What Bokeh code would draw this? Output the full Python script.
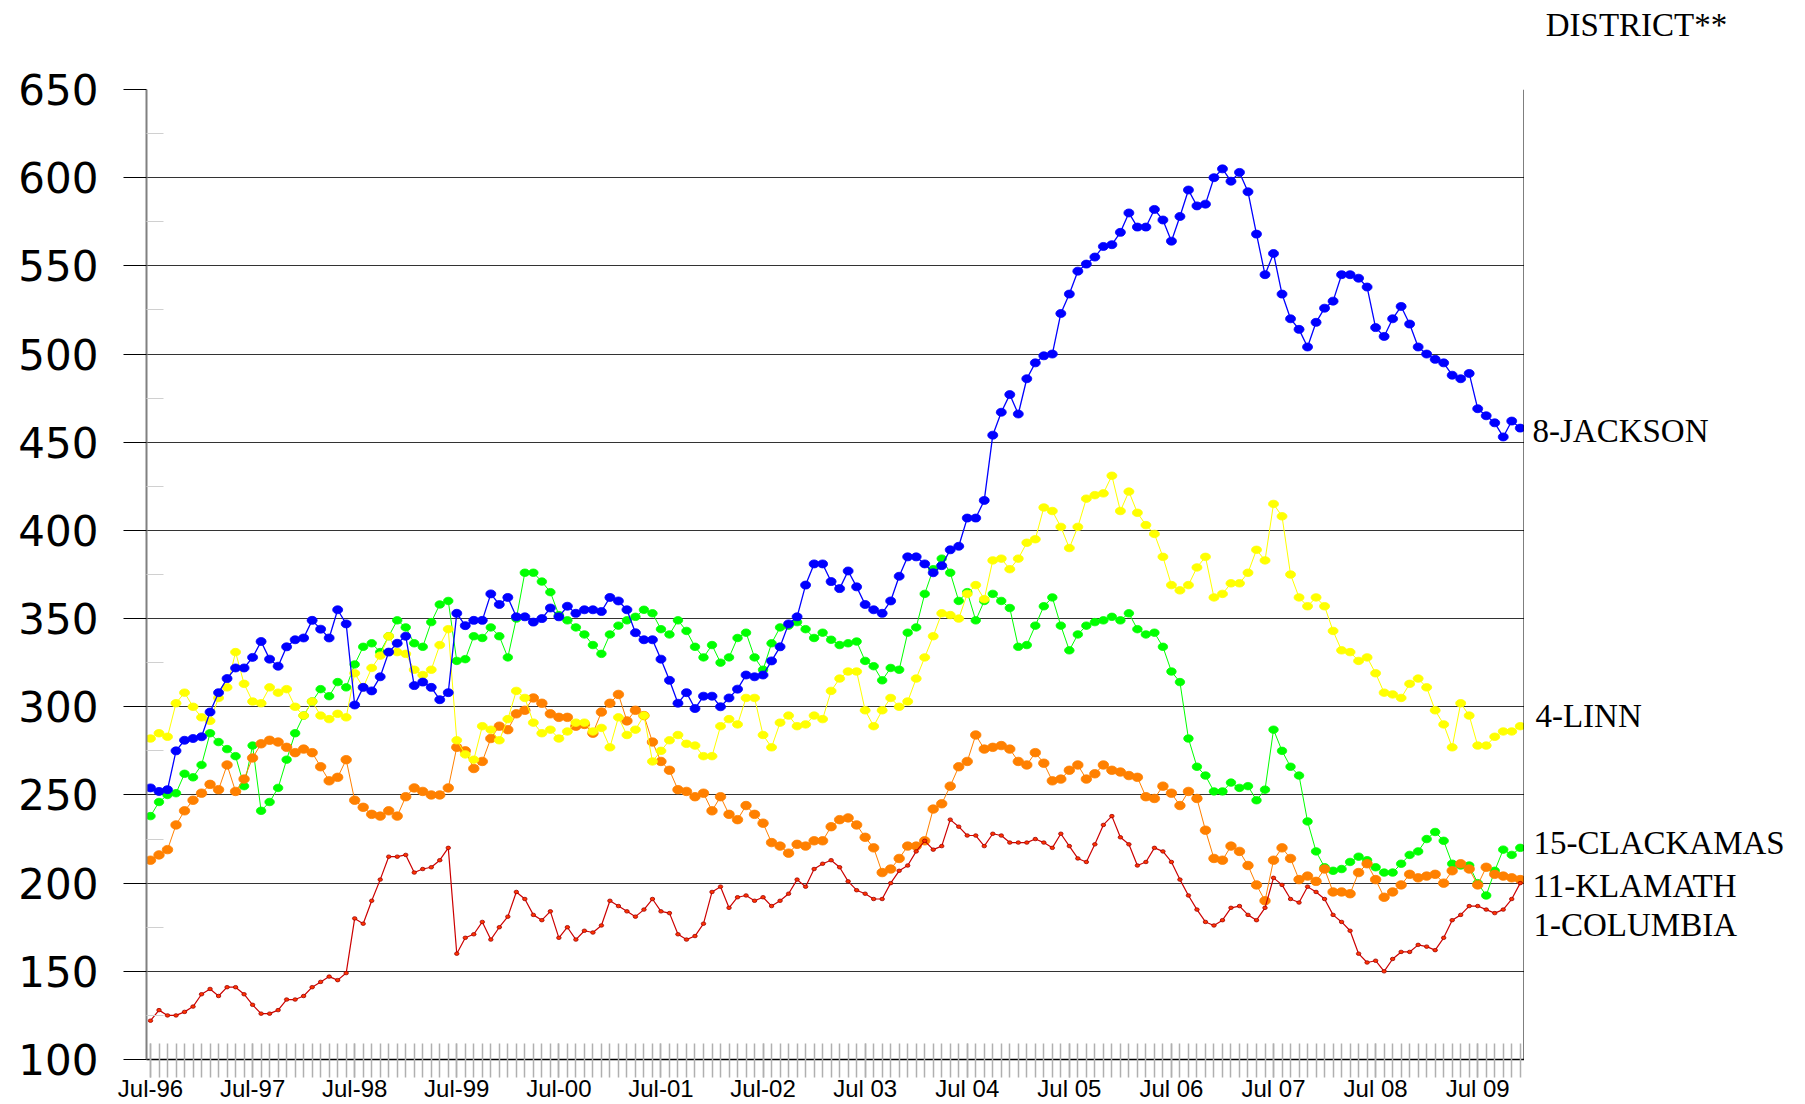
from bokeh.plotting import figure
from bokeh.layouts import row
from bokeh.models import Range1d, FixedTicker, Span, ColumnDataSource, LinearAxis
from bokeh.core.properties import value
from bokeh.embed import file_html
from bokeh.resources import INLINE

# ---------------- data (monthly, Jul-96 .. Dec-09) ----------------
x_tick_labels = ["Jul-96", "Jul-97", "Jul-98", "Jul-99", "Jul-00", "Jul-01", "Jul-02",
                 "Jul 03", "Jul 04", "Jul 05", "Jul 06", "Jul 07", "Jul 08", "Jul 09"]

y_ticks = [100, 150, 200, 250, 300, 350, 400, 450, 500, 550, 600, 650]

jackson = [254, 252, 253, 275, 281, 282, 283, 297, 308, 316, 322, 322, 328, 337, 327, 323,
           334, 338, 339, 349, 344, 339, 355, 347, 301, 311, 309, 317, 331, 336, 340, 312,
           314, 311, 304, 308, 353, 346, 349, 349, 364, 358,
           362, 351, 351, 348, 350, 356, 351, 357, 353, 355, 355, 354, 362, 360, 355, 342,
           338, 338, 327, 315, 302, 308, 299, 306, 306, 300, 305, 310, 318, 317, 318, 326,
           334, 347, 351, 369, 381, 381, 371, 367, 377,
           368, 358, 355, 353, 360, 374, 385, 385, 381, 376, 380, 389, 391,
           407, 407, 417, 454, 467, 477, 466, 486, 495, 499, 500, 523, 534, 547, 551, 555,
           561, 562, 569, 580, 572, 572, 582, 576, 564, 578, 593, 584, 585, 600, 605, 598,
           603, 592, 568, 545, 557, 534, 520, 514, 504, 518, 526, 530, 545, 545, 543, 538,
           515, 510, 520, 527, 517, 504, 500, 497, 495, 488, 486, 489, 469, 465, 461, 453,
           462, 458]

linn = [282, 285, 283, 302, 308, 300, 294, 292, 305, 311, 331, 313, 303, 302, 311, 308,
        310, 300, 295, 303, 295, 293, 296, 294, 319, 311, 322, 329, 340, 331, 330, 321,
        318, 321, 335, 344, 281, 273, 270, 289, 287, 281,
        293, 309, 305, 291, 285, 287, 282, 286, 291, 291, 286, 288, 277, 294, 284, 287,
        295, 269, 275, 281, 284, 279, 278, 272, 272, 289, 293, 290, 305, 305, 284, 277,
        291, 295, 289, 290, 295, 293, 309, 316, 320,
        320, 298, 289, 298, 305, 300, 303, 316, 328, 340, 353, 352, 350, 364, 369, 361,
        383, 384, 378, 384, 393, 395, 413, 411, 402, 390, 402, 418, 420, 421, 431, 411,
        422, 410, 403, 398, 385, 369, 366, 369, 379,
        385, 362, 364, 370, 370, 376, 389, 383, 415, 408, 375, 362, 357, 362, 357, 343,
        332, 331, 326, 328, 319, 308, 307, 305, 313, 316, 311, 298, 290, 277, 302, 295,
        278, 278, 283, 286, 286, 289]

clackamas = [238, 246, 250, 251, 262, 260, 267, 285, 280, 276, 272, 255, 278, 241, 246, 254,
             270, 285, 295, 303, 310, 306, 314, 311, 324, 334, 336, 331, 340, 349, 345, 336,
             334, 348, 358, 360, 326, 327, 340, 339, 345, 340,
             328, 350, 376, 376, 371, 365, 352, 349, 345, 341, 335, 330, 341, 346, 349, 351,
             355, 353, 344, 341, 349, 343, 334, 328, 335, 325, 328, 339, 342, 328, 321, 336,
             345, 346, 348, 344, 339, 342, 338, 335, 336,
             337, 326, 323, 315, 322, 321, 342, 345, 364, 378, 384, 376, 360, 365, 349, 360,
             364, 360, 356, 334, 335, 346, 357, 362, 346, 332, 341, 346, 348, 349, 351, 349,
             353, 344, 341, 342, 334, 320, 314, 282, 266,
             261, 252, 252, 257, 254, 255, 247, 253, 287, 275, 266, 261, 235, 218, 209, 207,
             208, 212, 215, 213, 209, 206, 206, 211, 216, 218, 225, 229, 224, 211, 210, 210,
             200, 193, 207, 219, 216, 220]

klamath = [213, 216, 219, 233, 241, 247, 251, 256, 253, 267, 252, 259, 271, 279, 281, 280,
           277, 274, 276, 274, 266, 258, 260, 270, 247, 243, 239, 238, 241, 238, 249, 254,
           252, 250, 250, 254, 277, 275, 265, 269, 282, 289,
           287, 296, 298, 305, 302, 296, 294, 294, 289, 290, 285, 297, 302, 307, 292, 298,
           295, 280, 269, 264, 253, 252, 249, 251, 241, 249, 239, 236, 244, 239, 234, 223,
           221, 217, 222, 221, 224, 224, 232, 236, 237,
           233, 226, 220, 206, 208, 214, 221, 221, 224, 242, 245, 255, 266, 269, 284, 276,
           277, 278, 276, 269, 267, 274, 268, 258, 259, 264, 267, 259, 262, 267, 264, 263,
           261, 260, 249, 248, 255, 251, 244, 252, 248,
           230, 214, 213, 221, 218, 210, 199, 190, 213, 220, 214, 202, 204, 201, 208, 195,
           195, 194, 206, 211, 202, 192, 195, 199, 205, 203, 204, 205, 200, 207, 211, 208,
           199, 209, 205, 204, 203, 202]

columbia = [122, 128, 125, 125, 127, 130, 137, 140, 136, 141, 141, 137, 131, 126, 126, 128,
            134, 134, 136, 141, 144, 147, 145, 149, 180, 177, 190, 202, 215, 215, 216, 206,
            208, 209, 213, 220, 160, 169, 171, 178, 168, 175,
            181, 195, 191, 182, 179, 184, 169, 175, 168, 173, 172, 176, 190, 187, 184, 181,
            185, 191, 184, 183, 171, 168, 170, 177, 195, 198, 186, 192, 193, 190, 192, 187,
            190, 194, 202, 198, 208, 211, 213, 209, 201,
            196, 194, 191, 191, 200, 207, 210, 218, 224, 219, 221, 236, 232, 227, 227, 221,
            228, 227, 223, 223, 223, 225, 223, 220, 228, 221, 214, 212, 222, 233, 238, 226,
            222, 210, 212, 220, 218, 212, 202, 193, 185,
            178, 176, 179, 186, 187, 182, 179, 186, 203, 199, 191, 189, 198, 195, 191, 182,
            178, 173, 160, 155, 156, 150, 157, 161, 161, 165, 164, 162, 169, 179, 182, 187,
            187, 185, 183, 185, 191, 200]

legend_title = "DISTRICT**"
series_names = ["8-JACKSON", "4-LINN", "15-CLACKAMAS", "11-KLAMATH", "1-COLUMBIA"]

months = list(range(len(jackson)))

# ---------------- layout constants ----------------
W_MAIN, W_SIDE, H = 1524, 281, 1104
B_LEFT, B_TOP, B_BOTTOM = 146, 89, 45
x_start, x_end = -0.47, len(months) - 0.5
ppx = (W_MAIN - B_LEFT) / (x_end - x_start)          # pixels per month

# ---------------- main figure ----------------
p = figure(width=W_MAIN, height=H, output_backend="svg", toolbar_location=None,
           x_range=Range1d(x_start, x_end), y_range=Range1d(y_ticks[0], y_ticks[-1]),
           min_border_left=B_LEFT, min_border_right=0, min_border_top=B_TOP,
           min_border_bottom=B_BOTTOM,
           background_fill_color="white", border_fill_color="white", outline_line_color=None)

# series: (values, line colour, line width, fill, outline, marker w, marker h)
series = [
    (clackamas, "#00ff00", 1.0, "#00ff00", "#00ff00", 9.5, 7.5),
    (klamath, "#ff8000", 1.0, "#ff8000", "#ff8000", 10.5, 8.5),
    (linn, "#ffff00", 1.0, "#ffff00", "#ffff00", 10, 7.5),
    (jackson, "#0000ff", 1.3, "#0000ff", "#0000ff", 10, 8),
    (columbia, "#cc0000", 1.2, "#ff3300", "#a00000", 4.5, 3.5),
]
for vals, lc, lw, fc, oc, mw, mh in series:
    src = ColumnDataSource(dict(x=months, y=vals))
    p.line("x", "y", source=src, line_color=lc, line_width=lw)
    p.ellipse("x", "y", source=src, width=mw, height=mh, width_units="screen",
              height_units="screen", fill_color=fc, line_color=oc, line_width=0.8)

# x axis
x_major = list(range(0, len(months), 12))
xa = p.xaxis[0]
xa.ticker = FixedTicker(ticks=x_major, minor_ticks=months)
xa.major_label_overrides = {t: lab for t, lab in zip(x_major, x_tick_labels)}
xa.axis_line_color = "black"
xa.axis_line_width = 1.5
for pre in ("major", "minor"):
    setattr(xa, pre + "_tick_line_color", "#b0b0b0")
    setattr(xa, pre + "_tick_line_width", 1.5)
    setattr(xa, pre + "_tick_in", 16)
    setattr(xa, pre + "_tick_out", 18)
xa.major_label_standoff = -3
xa.major_label_text_font = "Liberation Sans"
xa.major_label_text_font_size = "24px"
xa.major_label_text_color = "black"

# y axis
ya = p.yaxis[0]
ya.ticker = FixedTicker(ticks=y_ticks, minor_ticks=[t + 25 for t in y_ticks[:-1]])
ya.axis_line_color = "#808080"
ya.axis_line_width = 2
ya.major_tick_in = 0
ya.major_tick_out = 23
ya.major_tick_line_color = "black"
ya.major_tick_line_width = 1.2
ya.minor_tick_in = 17
ya.minor_tick_out = 0
ya.minor_tick_line_color = "#d0d0d0"
ya.major_label_standoff = 25
ya.major_label_text_font = "DejaVu Sans"
ya.major_label_text_font_size = "42px"
ya.major_label_text_color = "black"

p.xgrid.visible = False
p.ygrid.grid_line_color = "#333333"
p.ygrid.grid_line_width = 1.2

# right border line of the plot area
p.add_layout(Span(location=x_end, dimension="height", line_color="black", line_width=2))

# ---------------- side panel with the series labels ----------------
side = figure(width=W_SIDE, height=H, output_backend="svg", toolbar_location=None,
              x_range=Range1d(x_end, x_end + W_SIDE / ppx), y_range=p.y_range,
              min_border=0, x_axis_location=None, y_axis_location=None,
              background_fill_color="white", border_fill_color="white",
              outline_line_color=None)
side.grid.visible = False

# legend heading: drawn as the single (centred) label of an axis placed above the side panel
title_x = 174.66
head = LinearAxis(ticker=FixedTicker(ticks=[title_x]),
                  major_label_overrides={title_x: legend_title},
                  axis_line_color=None, major_tick_line_color=None,
                  minor_tick_line_color=None, major_tick_in=0, major_tick_out=0,
                  major_label_standoff=47,
                  major_label_text_font="Liberation Serif",
                  major_label_text_font_size="33px", major_label_text_color="black")
side.add_layout(head, "above")

label_src = ColumnDataSource(dict(
    text=series_names,
    x=[162.44, 162.79, 162.56, 162.44, 162.56],
    y=[456.6, 294.5, 223.0, 198.6, 176.0],
))
side.text("x", "y", text="text", source=label_src, text_font=value("Liberation Serif"),
          text_font_size="33px", text_baseline="middle", text_align="left",
          text_color="black")

open("out.html", "w").write(file_html(row(p, side), INLINE))
